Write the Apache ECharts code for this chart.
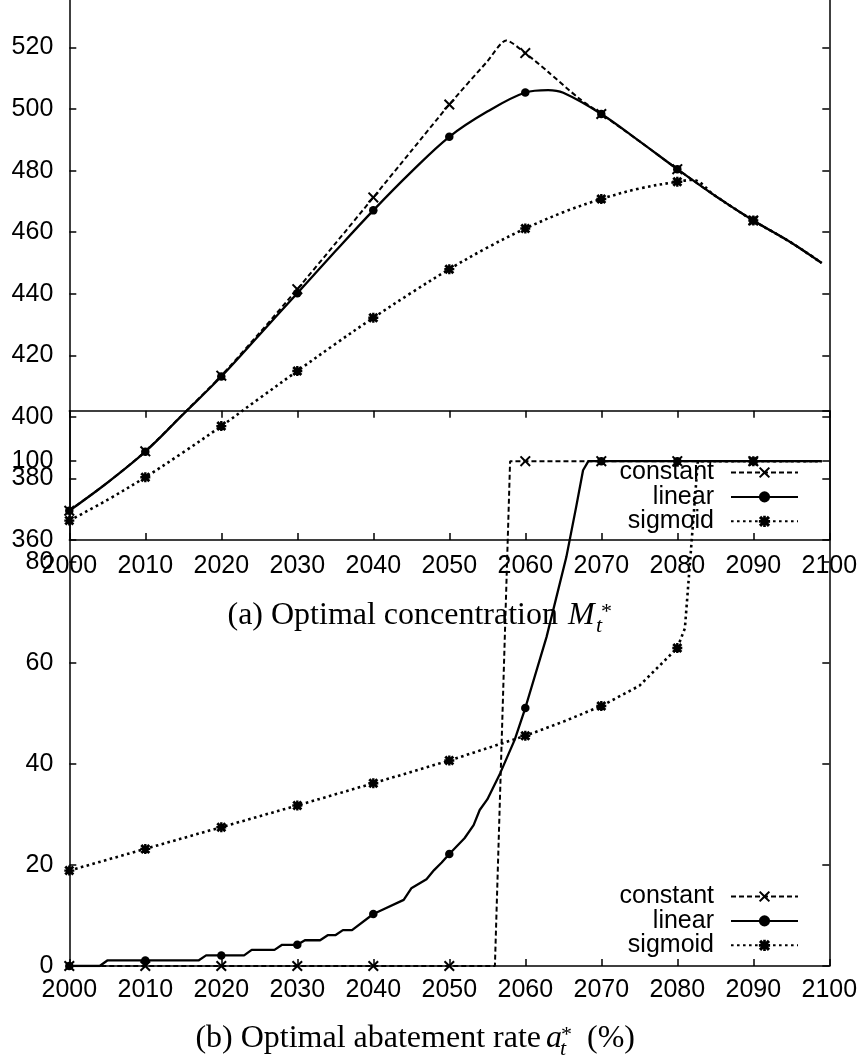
<!DOCTYPE html>
<html>
<head>
<meta charset="utf-8">
<script src="https://cdn.jsdelivr.net/npm/echarts@6/dist/echarts.min.js"></script>
<style>
  html, body { margin: 0; padding: 0; background: #fff; }
  #chart { width: 865px; height: 1061px; }
</style>
</head>
<body>
<div id="chart"></div>
<script>
// ---- (a) optimal concentration M_t* (ppm) ----
const concConstYears = [2000, 2005, 2010, 2015, 2020, 2025, 2030, 2035, 2040, 2045, 2050, 2055, 2057.5, 2060, 2063, 2067, 2070, 2075, 2080, 2085, 2090, 2095, 2099];
const concConst      = [369.5, 378.6, 388.8, 401.0, 413.4, 427.2, 441.5, 456.3, 471.3, 486.4, 501.5, 515.5, 522.3, 518.2, 512.1, 503.6, 498.4, 489.6, 480.5, 471.8, 463.8, 456.6, 450.0];

const concLinYears = [2000, 2005, 2010, 2015, 2020, 2025, 2030, 2035, 2040, 2045, 2050, 2055, 2060, 2063, 2065, 2070, 2075, 2080, 2085, 2090, 2095, 2099];
const concLin      = [369.5, 378.6, 388.7, 400.9, 413.1, 426.6, 440.2, 453.8, 467.1, 479.6, 491.0, 499.2, 505.4, 506.2, 505.3, 498.4, 489.6, 480.5, 471.8, 463.8, 456.6, 450.0];

const concSigYears = [2000, 2005, 2010, 2015, 2020, 2025, 2030, 2035, 2040, 2045, 2050, 2055, 2060, 2065, 2070, 2075, 2080, 2082, 2085, 2090, 2095, 2099];
const concSig      = [366.3, 373.0, 380.4, 388.5, 397.0, 406.0, 414.9, 423.7, 432.2, 440.3, 448.0, 455.0, 461.2, 466.5, 470.8, 474.2, 476.4, 477.0, 471.8, 463.8, 456.6, 450.0];

// ---- (b) optimal abatement rate a_t* (%) ----
const abateConstYears = [2000, 2010, 2020, 2030, 2040, 2050, 2056, 2058, 2060, 2070, 2080, 2090, 2099];
const abateConst      = [0, 0, 0, 0, 0, 0, 0, 100, 100, 100, 100, 100, 100];

const abateLinYears = [2000, 2004, 2005, 2010, 2017, 2018, 2020, 2023, 2024, 2027, 2028, 2030, 2031, 2033, 2034, 2035, 2036, 2037.2, 2040, 2041, 2044, 2045, 2047, 2048, 2049, 2050, 2052, 2053.2, 2054, 2055, 2056.7, 2058.6, 2060, 2062.8, 2065.4, 2066.7, 2067.6, 2068.3, 2070, 2080, 2090, 2099];
const abateLin      = [0, 0, 1.1, 1.1, 1.1, 2.1, 2.1, 2.1, 3.2, 3.2, 4.2, 4.2, 5.1, 5.1, 6.1, 6.1, 7.1, 7.1, 10.3, 11.0, 13.1, 15.4, 17.2, 19.0, 20.5, 22.2, 25.3, 27.9, 30.9, 33.0, 38.2, 44.8, 51.1, 65.2, 81.0, 91.0, 98.2, 100, 100, 100, 100, 100];

const abateSigYears = [2000, 2010, 2020, 2030, 2040, 2050, 2060, 2065, 2070, 2075, 2080, 2081, 2082.7, 2090, 2099];
const abateSig      = [18.9, 23.2, 27.5, 31.8, 36.2, 40.7, 45.6, 48.4, 51.5, 55.5, 63.0, 66.9, 100, 100, 100];

// axis ticks
const yearTicks = { min: 2000, max: 2100, step: 10 };
const concTicks = { min: 360, max: 540, step: 20 };
const abateTicks = { min: 0, max: 110, step: 20 };

const seriesNames = ['constant', 'linear', 'sigmoid'];

// ---- styling ----
const SANS = "'Liberation Sans', Arial, Helvetica, sans-serif";
const SERIF = "'Liberation Serif', 'Times New Roman', serif";
const INK = '#000';

// gnuplot-like point glyphs
const SYM_CROSS = 'path://M0,1.3L1.3,0L5,3.7L8.7,0L10,1.3L6.3,5L10,8.7L8.7,10L5,6.3L1.3,10L0,8.7L3.7,5Z';
const SYM_STAR = 'path://M0,2L2,0L5,3L8,0L10,2L7,5L10,8L8,10L5,7L2,10L0,8L3,5Z' +
                 'M3.8,0L6.2,0L6.2,3.8L10,3.8L10,6.2L6.2,6.2L6.2,10L3.8,10L3.8,6.2L0,6.2L0,3.8L3.8,3.8Z';

const styles = {
  constant: { symbol: SYM_CROSS, symbolSize: 11, line: { width: 2, type: [5, 3] } },
  linear:   { symbol: 'circle',  symbolSize: 8.5, line: { width: 2.3, type: 'solid' } },
  sigmoid:  { symbol: SYM_STAR,  symbolSize: 10, line: { width: 2.6, type: [2.6, 3.4] } }
};

// markers are placed on whole decades only
function toData(years, values) {
  return years.map((yr, i) => {
    const item = { value: [yr, values[i]] };
    if (yr % 10 !== 0) item.symbol = 'none';
    return item;
  });
}

function makeSeries(name, years, values, xi, yi, smooth) {
  const s = styles[name];
  return {
    name, type: 'line',
    xAxisIndex: xi, yAxisIndex: yi,
    data: toData(years, values),
    smooth: smooth,
    symbol: s.symbol,
    symbolSize: s.symbolSize,
    showAllSymbol: true,
    itemStyle: { color: INK, borderWidth: 0 },
    lineStyle: { color: INK, width: s.line.width, type: s.line.type, cap: 'butt' },
    emphasis: { disabled: true },
    animation: false,
    clip: true
  };
}

const tickStyle = { color: INK, width: 1.5 };
const labelStyle = { color: INK, fontFamily: SANS, fontSize: 25, formatter: v => String(v) };

function xAxisDef(grid, position, showLabels, margin) {
  return {
    gridIndex: grid, type: 'value', position,
    min: yearTicks.min, max: yearTicks.max, interval: yearTicks.step,
    axisLine: { show: true, onZero: false, lineStyle: tickStyle },
    axisTick: { show: true, inside: true, length: 7, lineStyle: tickStyle },
    axisLabel: Object.assign({ show: showLabels, margin: margin }, labelStyle),
    splitLine: { show: false }
  };
}

function yAxisDef(grid, position, ticks, showLabels) {
  return {
    gridIndex: grid, type: 'value', position,
    min: ticks.min, max: ticks.max, interval: ticks.step,
    axisLine: { show: true, onZero: false, lineStyle: tickStyle },
    axisTick: { show: true, inside: true, length: 7, lineStyle: tickStyle },
    axisLabel: Object.assign({ show: showLabels, margin: 16, showMaxLabel: ticks.max % ticks.step === 0 }, labelStyle),
    splitLine: { show: false }
  };
}

function legendDef(top) {
  return {
    data: seriesNames,
    orient: 'vertical', align: 'right',
    right: 66, top: top, padding: 0,
    itemWidth: 67, itemHeight: 14, itemGap: -0.6,
    selectedMode: false,
    textStyle: { color: INK, fontFamily: SANS, fontSize: 25, lineHeight: 20, padding: [0, 12, 0, 0] }
  };
}

const chart = echarts.init(document.getElementById('chart'), null, { renderer: 'canvas' });

chart.setOption({
  backgroundColor: '#fff',
  animation: false,
  grid: [
    { left: 69.3, right: 35.7, top: -14, height: 554, outerBoundsMode: 'none' },
    { left: 69.3, right: 35.7, top: 410.7, height: 555.3, outerBoundsMode: 'none' }
  ],
  xAxis: [
    xAxisDef(0, 'bottom', true, 14),
    xAxisDef(1, 'bottom', true, 12),
    xAxisDef(1, 'top', false, 12)
  ],
  yAxis: [
    yAxisDef(0, 'left', concTicks, true),
    yAxisDef(0, 'right', concTicks, false),
    yAxisDef(1, 'left', abateTicks, true),
    yAxisDef(1, 'right', abateTicks, false)
  ],
  legend: [legendDef(460), legendDef(884)],
  series: [
    makeSeries('constant', concConstYears, concConst, 0, 0, 0.25),
    makeSeries('linear', concLinYears, concLin, 0, 0, 0.35),
    makeSeries('sigmoid', concSigYears, concSig, 0, 0, 0.35),
    makeSeries('constant', abateConstYears, abateConst, 1, 2, false),
    makeSeries('linear', abateLinYears, abateLin, 1, 2, false),
    makeSeries('sigmoid', abateSigYears, abateSig, 1, 2, false)
  ],
  graphic: [
    // caption (a)
    { type: 'text', silent: true, style: { text: '(a) Optimal concentration', x: 558, y: 616, font: '32px ' + SERIF, fill: INK, textAlign: 'right', textVerticalAlign: 'middle' } },
    { type: 'text', silent: true, style: { text: 'M', x: 568, y: 616, font: 'italic 32px ' + SERIF, fill: INK, textAlign: 'left', textVerticalAlign: 'middle' } },
    { type: 'text', silent: true, style: { text: 't', x: 596, y: 626, font: 'italic 22px ' + SERIF, fill: INK, textAlign: 'left', textVerticalAlign: 'middle' } },
    { type: 'text', silent: true, style: { text: '*', x: 601, y: 612, font: '22px ' + SERIF, fill: INK, textAlign: 'left', textVerticalAlign: 'middle' } },
    // caption (b)
    { type: 'text', silent: true, style: { text: '(b) Optimal abatement rate', x: 541, y: 1039, font: '32px ' + SERIF, fill: INK, textAlign: 'right', textVerticalAlign: 'middle' } },
    { type: 'text', silent: true, style: { text: 'a', x: 546, y: 1039, font: 'italic 32px ' + SERIF, fill: INK, textAlign: 'left', textVerticalAlign: 'middle' } },
    { type: 'text', silent: true, style: { text: 't', x: 560, y: 1049, font: 'italic 22px ' + SERIF, fill: INK, textAlign: 'left', textVerticalAlign: 'middle' } },
    { type: 'text', silent: true, style: { text: '*', x: 561, y: 1035, font: '22px ' + SERIF, fill: INK, textAlign: 'left', textVerticalAlign: 'middle' } },
    { type: 'text', silent: true, style: { text: '(%)', x: 587, y: 1039, font: '32px ' + SERIF, fill: INK, textAlign: 'left', textVerticalAlign: 'middle' } }
  ]
});
</script>
</body>
</html>
